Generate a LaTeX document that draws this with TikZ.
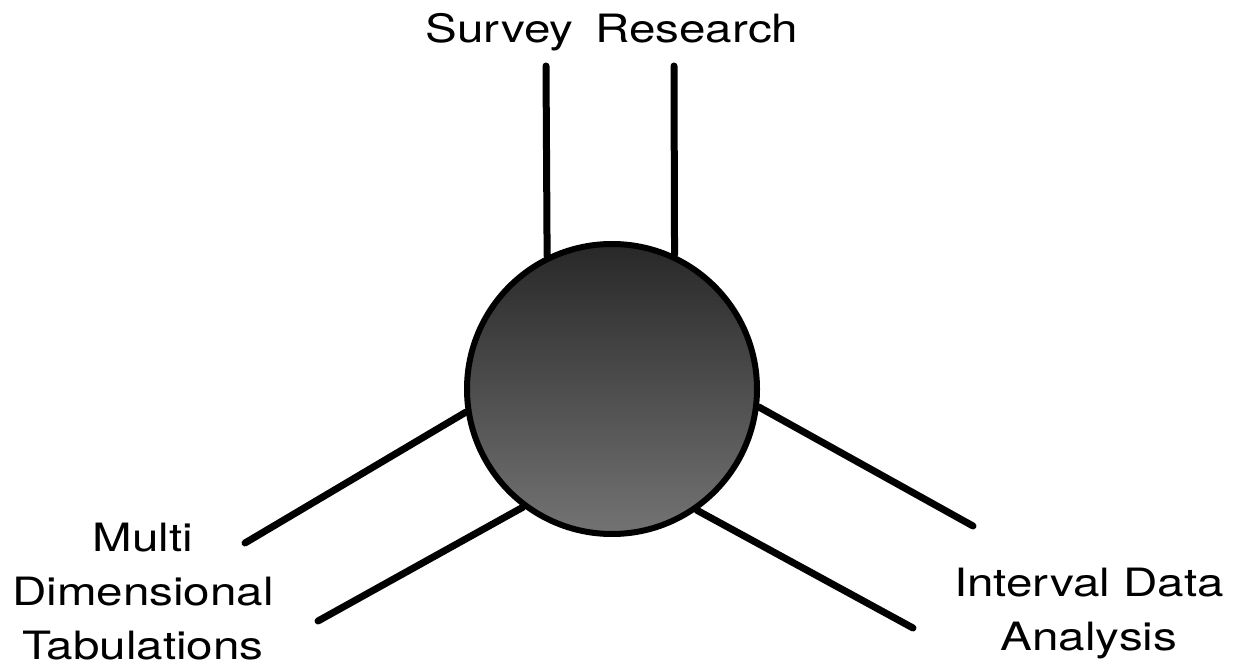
\documentclass[tikz,border=0pt]{standalone}
\usepackage{fontspec}
\newfontfamily\labelfont{TeX Gyre Heros}[FakeStretch=1.22]
\usepackage{tikz}
\usetikzlibrary{arrows.meta,positioning,calc,backgrounds}
\definecolor{InkK}  {RGB}{0,   0,   0}
\definecolor{HubTop}{RGB}{40,  40,  40}
\definecolor{HubBot}{RGB}{115,115, 115}
\tikzset{
  spoke/.style={draw=InkK,line width=7pt,line cap=round},
  hub/.style={circle,draw=InkK,line width=6pt,minimum size=290pt,
              top color=HubTop,bottom color=HubBot,inner sep=0pt},
  lbl/.style={font=\labelfont\fontsize{39}{54}\selectfont,align=center,
              inner sep=0pt,anchor=base}
}

\begin{document}
\begin{tikzpicture}[x=1pt,y=-1pt]
        \useasboundingbox (0,0) rectangle (1251,668);
        \node[hub] (hub) at (612,389) {};
        \coordinate (sr1) at (546,66);
        \coordinate (sr2) at (674,66);
        \coordinate (md1) at (245,543);
        \coordinate (md2) at (318,621);
        \coordinate (ia1) at (973,526);
        \coordinate (ia2) at (913,628);
        \begin{scope}[on background layer]
        \foreach \a/\p in {116.6/sr1,65.2/sr2,189.3/md1,
                           233.6/md2,353.2/ia1,305.1/ia2}{
          \draw[spoke] (hub.\a) -- (\p);}
        \end{scope}
        \node[lbl] (survey) at (612,43) {Survey\hspace{22pt}Research};
        \node[lbl] (multi) at (143,659) {Multi\\Dimensional\\Tabulations};
        \node[lbl] (interval) at (1089,650) {Interval\ Data\\Analysis};
      \end{tikzpicture}
\end{document}
